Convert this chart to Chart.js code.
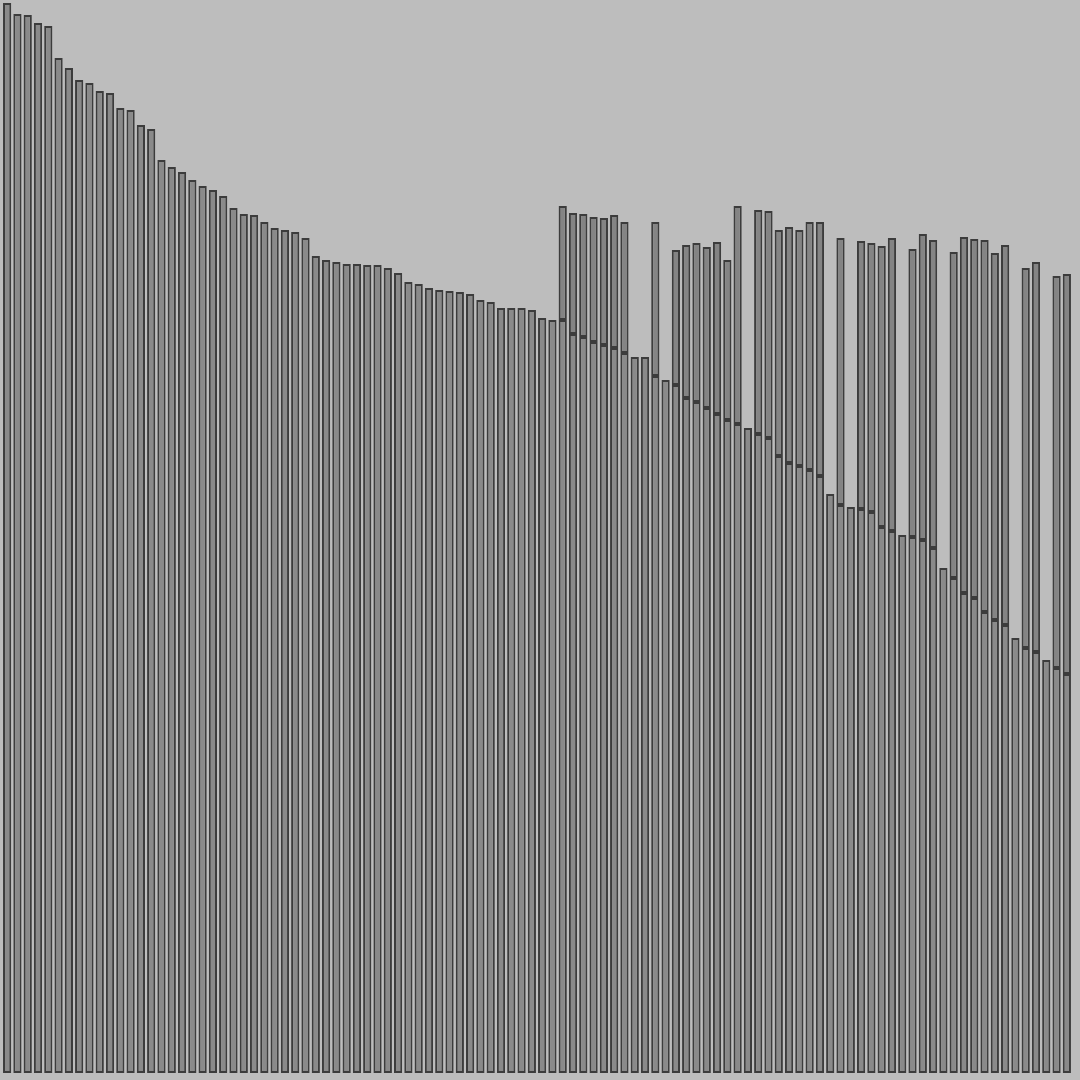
<!DOCTYPE html>
<html>
<head>
<meta charset="utf-8">
<script src="https://cdn.jsdelivr.net/npm/chart.js@4/dist/chart.umd.min.js"></script>
<style>
  html, body { margin: 0; padding: 0; background: #bdbdbd; }
  #wrap { width: 1080px; height: 1080px; }
</style>
</head>
<body>
<div id="wrap"><canvas id="barChart" width="1080" height="1080"></canvas></div>
<script>
// lower part of each bar
const lowerValues = [
  107.0, 105.9, 105.8, 105.0, 104.7, 101.5, 100.5, 99.3, 99.0, 98.2,
  98.0, 96.5, 96.3, 94.8, 94.4, 91.3, 90.6, 90.1, 89.3, 88.7,
  88.3, 87.7, 86.5, 85.9, 85.8, 85.1, 84.5, 84.3, 84.1, 83.5,
  81.7, 81.3, 81.1, 80.9, 80.9, 80.8, 80.8, 80.5, 80.0, 79.1,
  78.9, 78.5, 78.3, 78.2, 78.1, 77.9, 77.3, 77.1, 76.5, 76.5,
  76.5, 76.3, 75.5, 75.3, 75.3, 73.9, 73.6, 73.1, 72.8, 72.5,
  72.0, 71.6, 71.6, 69.7, 69.3, 68.8, 67.5, 67.1, 66.5, 65.9,
  65.3, 64.9, 64.5, 63.9, 63.5, 61.7, 61.0, 60.7, 60.3, 59.7,
  57.9, 56.8, 56.6, 56.4, 56.1, 54.6, 54.2, 53.8, 53.6, 53.3,
  52.5, 50.5, 49.5, 48.0, 47.5, 46.1, 45.3, 44.8, 43.5, 42.5,
  42.1, 41.3, 40.5, 39.9
];

// upper part stacked on top (0 = none)
const upperValues = [
  0, 0, 0, 0, 0, 0, 0, 0, 0, 0,
  0, 0, 0, 0, 0, 0, 0, 0, 0, 0,
  0, 0, 0, 0, 0, 0, 0, 0, 0, 0,
  0, 0, 0, 0, 0, 0, 0, 0, 0, 0,
  0, 0, 0, 0, 0, 0, 0, 0, 0, 0,
  0, 0, 0, 0, 11.4, 12.1, 12.3, 12.5, 12.7, 13.3,
  13.1, 0, 0, 15.4, 0, 13.5, 15.3, 15.9, 16.1, 17.2,
  16.0, 21.8, 0, 22.4, 22.7, 22.6, 23.6, 23.6, 24.8, 25.4,
  0, 26.7, 0, 26.8, 26.9, 28.1, 29.3, 0, 28.8, 30.6,
  30.8, 0, 32.6, 35.6, 35.9, 37.2, 36.7, 38.0, 0, 38.0,
  39.0, 0, 39.2, 40.0
];

const categories = lowerValues.map((v, i) => String(i + 1));

const ctx = document.getElementById("barChart");
const myChart = new Chart(ctx, {
  type: "bar",
  data: {
    labels: categories,
    datasets: [
      {
        label: "lower",
        data: lowerValues,
        backgroundColor: "rgb(138, 138, 138)",
        borderColor: "rgb(60, 60, 60)",
        borderWidth: 2,
        borderSkipped: false,
        barPercentage: 0.8,
        categoryPercentage: 1,
      },
      {
        label: "upper",
        data: upperValues,
        backgroundColor: "rgb(132, 132, 132)",
        borderColor: "rgb(60, 60, 60)",
        borderWidth: 2,
        borderSkipped: false,
        barPercentage: 0.8,
        categoryPercentage: 1,
      },
    ],
  },
  options: {
    responsive: false,
    animation: false,
    layout: {
      padding: { left: 2, right: 8, top: 1, bottom: 7 },
    },
    plugins: {
      legend: { display: false },
      tooltip: { enabled: false },
    },
    scales: {
      x: {
        stacked: true,
        display: false,
      },
      y: {
        stacked: true,
        display: false,
        min: 0,
        max: 107.2,
      },
    },
  },
});
</script>
</body>
</html>
